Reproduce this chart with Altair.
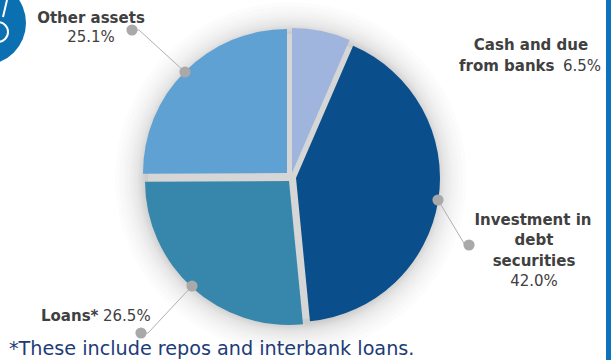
import altair as alt
import pandas as pd

# Balance-sheet composition, clockwise from twelve o'clock
segments = ["Cash and due from banks", "Investment in debt securities", "Loans", "Other assets"]
shares = [6.5, 42.0, 26.5, 25.1]
colors = ["#a0b5dd", "#0a4f8b", "#3787ac", "#5fa1d2"]
# Apex of each exploded slice and its radius
apex_x = [292, 296, 289, 287]
apex_y = [173, 178, 181, 173]
radii = [145, 144, 144, 144]

W, H = 611, 360
CX, CY, R = 291, 178, 148
FONT = "DejaVu Sans"

pie_data = pd.DataFrame({"segment": segments, "share": shares, "rank": range(len(segments))})

blank = alt.Data(values=[{"k": 0}])


def px(v):
    return alt.value(v)


# Soft halo behind the pie, built from stacked translucent discs
halo = [
    alt.Chart(blank)
    .mark_arc(radius=R + grow, theta=0, theta2=6.2832, color="#000000", opacity=0.012)
    .encode(x=px(CX), y=px(CY))
    for grow in [-2, -1, 0, 1, 2, 3, 4, 5, 6, 8, 10, 12, 14, 17, 20, 24, 28]
]

# Light disc that shows through the gaps between slices
under = (
    alt.Chart(blank)
    .mark_arc(radius=R - 5, theta=0, theta2=6.2832, color="#d6d6d6")
    .encode(x=px(291), y=px(177))
)

theta_scale = alt.Scale(domain=[0, sum(shares)], range=[0, 6.28319])

slices = [
    alt.Chart(pie_data)
    .transform_stack(
        stack="share",
        groupby=[],
        as_=["start", "end"],
        sort=[alt.SortField("rank", order="ascending")],
    )
    .transform_filter(alt.datum["rank"] == i)
    .mark_arc(outerRadius=radii[i], color=colors[i])
    .encode(
        x=px(apex_x[i]),
        y=px(apex_y[i]),
        theta=alt.Theta("start:Q", scale=theta_scale),
        theta2="end:Q",
    )
    for i in range(len(segments))
]


def leader(x1, y1, elbow_x, elbow_y, x2, y2):
    line = pd.DataFrame({"px": [x1, elbow_x, x2], "py": [y1, elbow_y, y2], "i": [0, 1, 2]})
    scale_x = alt.Scale(domain=[0, W], range=[0, W])
    scale_y = alt.Scale(domain=[0, H], range=[0, H])
    path = (
        alt.Chart(line)
        .mark_line(color="#b0b0b0", strokeWidth=1)
        .encode(
            x=alt.X("px:Q", scale=scale_x, axis=None),
            y=alt.Y("py:Q", scale=scale_y, axis=None),
            order="i:Q",
        )
    )
    dots = (
        alt.Chart(line[line.i != 1])
        .mark_circle(color="#a9a9a9", size=125, opacity=1)
        .encode(
            x=alt.X("px:Q", scale=scale_x, axis=None),
            y=alt.Y("py:Q", scale=scale_y, axis=None),
        )
    )
    return [path, dots]


leaders = (
    leader(132, 30, 139, 30, 185, 72)
    + leader(438, 200, 465, 245, 469, 245)
    + leader(192, 286, 148, 333, 141, 333)
)


def label(text, x, y, bold=True, align="center", size=15, color="#404040"):
    return (
        alt.Chart(blank)
        .mark_text(
            text=text,
            font=FONT,
            fontSize=size,
            fontWeight="bold" if bold else "normal",
            align=align,
            baseline="alphabetic",
            color=color,
        )
        .encode(x=px(x), y=px(y))
    )


labels = [
    label("Other assets", 91, 23),
    label("25.1%", 91, 42, bold=False),
    label("Cash and due", 531, 50),
    label("from banks", 459, 71, align="left"),
    label("6.5%", 563, 71, bold=False, align="left"),
    label("Investment in", 533, 225),
    label("debt", 534, 245),
    label("securities", 534, 266),
    label("42.0%", 534, 286, bold=False),
    label("Loans*", 41, 321, align="left"),
    label("26.5%", 103, 321, bold=False, align="left"),
    label(
        "*These include repos and interbank loans.",
        9,
        355,
        bold=False,
        align="left",
        size=19.2,
        color="#1d3b78",
    ),
]

# Corner badge and right-hand page edge
badge = (
    alt.Chart(blank)
    .mark_arc(radius=42, theta=0, theta2=6.2832, color="#0b70b2")
    .encode(x=px(-16), y=px(23))
)
badge_ring = (
    alt.Chart(blank)
    .mark_arc(radius=11, radius2=9, theta=0, theta2=6.2832, color="#ffffff")
    .encode(x=px(-2), y=px(32))
)
badge_stem = (
    alt.Chart(blank)
    .mark_rule(color="#ffffff", strokeWidth=2)
    .encode(x=px(7), x2=px(3), y=px(0), y2=px(17))
)
edge = (
    alt.Chart(blank)
    .mark_rect(color="#0b72bd")
    .encode(x=px(606), x2=px(W), y=px(0), y2=px(H))
)

chart = (
    alt.layer(*halo, under, *slices, *leaders, *labels, badge, badge_ring, badge_stem, edge)
    .properties(
        width=W,
        height=H,
        padding=0,
        autosize=alt.AutoSizeParams(type="none"),
        background="#ffffff",
    )
    .configure_view(stroke=None)
)

chart.save("out.html", embed_options={"renderer": "svg", "actions": False})
